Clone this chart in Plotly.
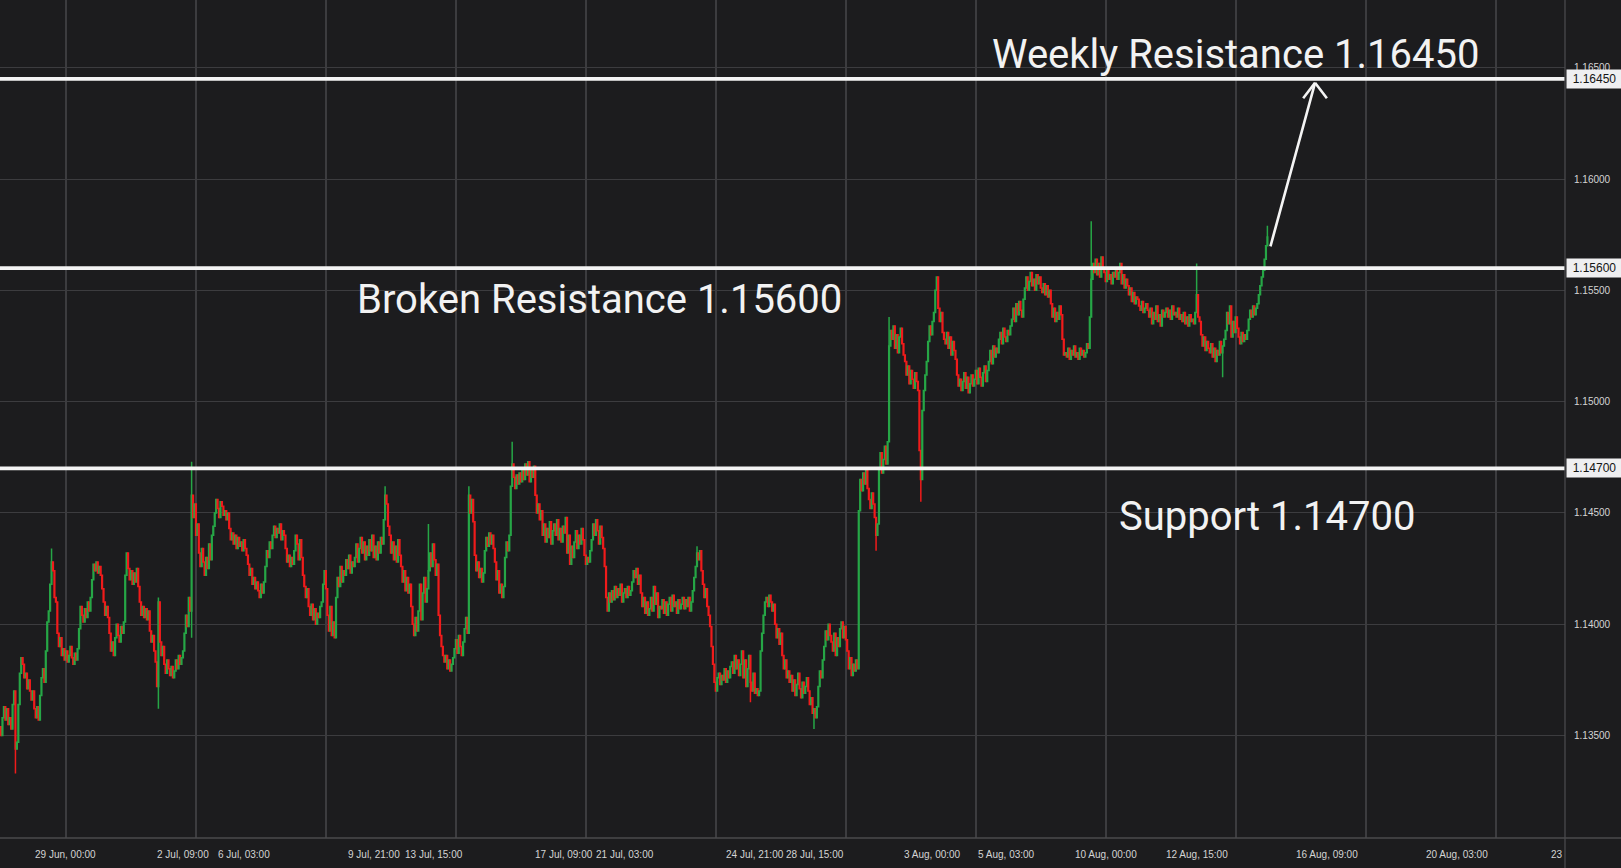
import plotly.graph_objects as go

# hourly closes, in pips above 1.13000 (one value per 1H bar)
close_pips = [
    50, 58, 63, 57, 62, 55, 58, 53, 64, 70, 44, 47,
    64, 78, 85, 82, 76, 78, 71, 75, 70,
    66, 70, 62, 58, 63, 57, 68, 76, 80, 74,
    88, 101, 106, 118, 128, 124, 112, 110, 96, 90, 94,
    86, 89, 84, 88, 83, 86, 90, 85, 82, 87, 84, 89,
    98, 108, 104, 101, 107, 103, 110, 106, 112,
    120, 127, 124, 128, 123, 126, 122, 116, 110, 104, 108, 103,
    96, 88, 92, 86, 94, 100, 95, 92, 99, 96, 101,
    122, 132, 125, 120, 124, 118, 123, 119, 125, 117,
    110, 104, 108, 103, 107, 102, 106, 97, 92, 95, 88, 83, 72, 110,
    92, 86, 90, 82, 78, 84, 80, 77, 81, 76, 79,
    84, 80, 86, 82, 85, 88, 96, 104, 99, 112, 106, 158,
    148, 154, 140, 145, 132, 126, 134, 128, 122, 130, 125, 136, 129, 140, 144,
    150, 156, 152, 148, 155, 153, 149, 151, 147, 150,
    143, 138, 141, 136, 140, 134, 139, 135, 137, 133, 138, 134, 131,
    127, 122, 125, 118, 121, 116, 119, 115, 112, 118, 114, 119,
    126, 133, 130, 137, 134, 140, 144, 139, 143, 141, 145, 138, 142, 140,
    134, 128, 131, 126, 130, 127, 133, 140, 136, 129, 138,
    130, 122, 117, 112, 116, 108, 104, 109, 102, 107, 100, 105, 103, 108, 110,
    118, 124, 116, 104, 97, 108, 95, 101, 94,
    112, 121, 117, 126, 119, 124, 122, 129, 125, 131, 123, 128, 126,
    130, 136, 128, 134, 139, 132, 137, 129, 135,
    131, 138, 133, 140, 130, 135, 129, 137, 132, 139, 136,
    147, 158, 154, 144, 140, 132, 137, 129, 135, 128, 138, 131,
    126, 119, 124, 115, 121, 114, 118, 108, 100, 95, 103, 97,
    106, 118, 102, 114, 121, 110, 116, 124, 132, 126, 136, 129, 122, 127,
    104, 95, 90, 86, 83, 86, 80, 84, 79, 82, 85,
    89, 93, 87, 95, 90, 86, 92, 98, 103, 96, 158,
    150, 156, 146, 131, 124, 128, 121, 125, 119, 123,
    133, 139, 135, 141, 136, 140, 134, 128, 120, 124, 114, 118, 112, 117,
    130, 137, 133, 140, 162, 172, 166, 161, 167, 163, 168, 164,
    170, 165, 172, 167, 173, 164, 169, 166, 171, 158, 150, 154, 147, 151,
    140, 145, 137, 143, 139, 146, 136, 142, 145, 140, 147, 138, 143, 137, 144, 141,
    148, 132, 140, 127, 135, 130, 137, 142, 134, 140, 136, 143, 138,
    131, 127, 130, 128, 133, 138, 145, 140, 147, 142, 136, 144, 139, 134,
    126, 112, 106, 114, 110,
    115, 111, 117, 112, 116, 113, 118, 110, 114, 116, 112, 117, 113, 115,
    119, 124, 121, 125, 118, 122, 114, 108, 112, 105, 110, 104, 107,
    112, 106, 117, 109, 114, 103, 108,
    107, 111, 105, 110, 104, 109, 112, 106, 113, 108, 110, 105, 111, 107,
    109, 112, 107, 111, 108, 112, 106, 110, 115, 121,
    126, 132, 129, 133, 124, 118, 112, 116, 108, 104, 99,
    90, 82, 74, 70, 76, 78, 73, 77, 75, 80, 74, 79, 76, 81,
    83, 78, 86, 80, 84, 77, 82, 88, 76, 84, 72, 80, 86, 74, 70, 78,
    69, 71, 68, 70, 88, 96, 104, 110, 112, 108, 113, 110, 106, 109,
    100, 94, 98, 91, 96, 86, 80, 84, 76, 79,
    74, 77, 70, 75, 68, 73, 78, 71, 67, 74, 69, 72, 76,
    70, 64, 67, 60, 62, 58, 63, 72, 79, 76, 84,
    90, 97, 93, 100, 95, 92, 88, 96, 86, 94, 90, 98,
    101, 94, 99, 93, 88, 80, 85, 77, 82, 79, 84, 80, 151,
    165, 160, 168, 163, 170, 161, 156, 152, 159, 154, 148, 140, 145,
    170, 177, 168, 174, 180, 172, 182, 225, 232,
    228, 234, 224, 230, 222, 229, 233, 226, 221,
    218, 212, 216, 208, 214, 210, 206, 213, 209, 205,
    178, 165, 196, 205, 212, 218, 227, 234, 230, 236, 240, 250, 256,
    242, 236, 240, 231, 228, 226, 231, 224, 229, 221, 227, 223, 219,
    212, 207, 210, 205, 209, 213, 206, 211, 204, 208, 212, 207,
    210, 214, 208, 215, 211, 207, 213, 216, 209, 214,
    218, 223, 217, 225, 220, 224, 222,
    228, 231, 226, 233, 229, 227, 232, 230, 234,
    237, 242, 236, 244, 239, 245, 241, 238, 246,
    251, 256, 250, 254, 258, 252, 255, 250, 257, 253, 256, 251,
    249, 253, 248, 252, 247, 250, 244, 238, 242, 236, 240, 237, 243, 239,
    228, 221, 222, 220, 224, 219, 223, 221, 225, 220, 222, 219, 224, 221, 223, 220, 222, 226, 224,
    238, 255, 262, 258, 264, 257, 262, 256, 265, 260, 258,
    254, 259, 255, 257, 253, 258, 256, 260, 255,
    258, 262, 253, 257, 251, 255, 252, 248, 251, 245, 249, 244, 247, 246,
    243, 241, 245, 240, 242, 244, 241,
    238, 242, 235, 240, 237, 243, 236, 239, 234, 241, 238, 240,
    242, 238, 241, 237, 243, 239, 240, 238, 242, 237, 239,
    236, 240, 235, 238, 234, 239, 236, 237, 235, 240,
    248, 238, 236, 230, 225, 229, 223, 227, 224,
    222, 226, 220, 224, 218, 223, 221, 227, 222, 225, 228,
    232, 240, 235, 243, 229, 236, 231, 238, 233,
    229, 226, 231, 227, 230, 228, 232,
    237, 241, 238, 243, 239, 242, 244, 248, 252, 256, 259, 264, 270, 274,
]
first_open_pips = 54

# long wicks (bar index -> extreme, pips above 1.13000)
wick_high_bar = [35, 109, 132, 266, 296, 324, 354, 482, 615, 755, 828, 877]
wick_high_pips = [134, 112, 173, 162, 145, 162, 182, 135, 238, 281, 262, 279]
wick_low_bar = [10, 109, 132, 519, 563, 606, 637, 846]
wick_low_pips = [33, 62, 94, 65, 53, 133, 155, 211]

# horizontal levels drawn on the chart
levels = [1.16450, 1.15600, 1.14700]
level_labels = ["1.16450", "1.15600", "1.14700"]

# y-axis ticks
y_ticks = [1.135, 1.140, 1.145, 1.150, 1.155, 1.160, 1.165]

# time-axis labels (bar index of each label)
time_label_bar = [45, 126, 168, 258, 300, 390, 432, 522, 564, 645, 696, 765, 828, 918, 1008]
time_labels = ["29 Jun, 00:00", "2 Jul, 09:00", "6 Jul, 03:00", "9 Jul, 21:00",
               "13 Jul, 15:00", "17 Jul, 09:00", "21 Jul, 03:00", "24 Jul, 21:00",
               "28 Jul, 15:00", "3 Aug, 00:00", "5 Aug, 03:00", "10 Aug, 00:00",
               "12 Aug, 15:00", "16 Aug, 09:00", "20 Aug, 03:00"]

BG = "#1c1c1e"
GRID = "#3c3c3f"
UP = "#26a646"
DOWN = "#f01b1b"
TXT = "#d4d4d4"
AXFONT = "Liberation Sans, Arial, sans-serif"

base = 1.13
closes = [base + p / 10000 for p in close_pips]
opens = [base + first_open_pips / 10000] + closes[:-1]
highs = [max(o, c) for o, c in zip(opens, closes)]
lows = [min(o, c) for o, c in zip(opens, closes)]
for i, p in zip(wick_high_bar, wick_high_pips):
    highs[i] = max(highs[i], base + p / 10000)
for i, p in zip(wick_low_bar, wick_low_pips):
    lows[i] = min(lows[i], base + p / 10000)
bars = list(range(len(closes)))

fig = go.Figure()
fig.add_trace(go.Candlestick(
    x=bars, open=opens, high=highs, low=lows, close=closes,
    increasing=dict(line=dict(color=UP, width=1.5), fillcolor=UP),
    decreasing=dict(line=dict(color=DOWN, width=1.5), fillcolor=DOWN),
    whiskerwidth=0, showlegend=False, hoverinfo="skip",
))

for lv, lab in zip(levels, level_labels):
    fig.add_shape(type="line", xref="paper", x0=0, x1=1, yref="y", y0=lv, y1=lv,
                  line=dict(color="#f4f4f4", width=3.8), layer="above")
    fig.add_annotation(xref="paper", x=1, xanchor="left", yref="y", y=lv,
                       text=lab, showarrow=False, bgcolor="#efeff1",
                       font=dict(family=AXFONT, size=12, color="#151515"),
                       width=53, height=16, align="center", borderpad=1, xshift=1)

for b, t in zip(time_label_bar, time_labels):
    fig.add_annotation(xref="x", x=b, yref="paper", y=0, yanchor="top", yshift=-9,
                       text=t, showarrow=False,
                       font=dict(family=AXFONT, size=10, color=TXT))
fig.add_annotation(xref="paper", x=1, xanchor="right", yref="paper", y=0, yanchor="top",
                   yshift=-9, text="23", showarrow=False,
                   font=dict(family=AXFONT, size=10, color=TXT))

big = dict(family="Roboto", size=40, color="#f2f2f2")
fig.add_annotation(x=685, y=1.16560, xanchor="left", yanchor="middle",
                   text="Weekly Resistance 1.16450", showarrow=False, font=big)
fig.add_annotation(x=245, y=1.15457, xanchor="left", yanchor="middle",
                   text="Broken Resistance 1.15600", showarrow=False, font=big)
fig.add_annotation(x=773, y=1.14482, xanchor="left", yanchor="middle",
                   text="Support 1.14700", showarrow=False, font=big)

# arrow towards weekly resistance: shaft plus open chevron
head_x, head_y = 910, 1.16432
for ax, ay in [(-45, 165), (-13, 17), (13, 17)]:
    fig.add_annotation(x=head_x, y=head_y, ax=ax, ay=ay, text="", showarrow=True,
                       arrowhead=0, arrowwidth=2.6, arrowcolor="#f4f4f4")

# axis frame lines running into the margins
fig.add_shape(type="line", xref="paper", yref="paper", x0=1, x1=1, y0=-0.04, y1=1,
              line=dict(color="#4a4a4d", width=1.3))
fig.add_shape(type="line", xref="paper", yref="paper", x0=0, x1=1.04, y0=0, y1=0,
              line=dict(color="#4a4a4d", width=1.3))

fig.update_layout(
    width=1621, height=868,
    margin=dict(l=0, r=56, t=0, b=30),
    paper_bgcolor=BG, plot_bgcolor=BG,
    xaxis=dict(range=[-0.7, 1083.1], rangeslider=dict(visible=False),
               showticklabels=False, showgrid=True, gridcolor=GRID, gridwidth=2,
               tick0=45, dtick=90, zeroline=False, showline=False, fixedrange=True),
    yaxis=dict(range=[1.13040, 1.16804], side="right", tickvals=y_ticks,
               tickformat=".5f", showgrid=True, gridcolor=GRID, gridwidth=1.4,
               zeroline=False, showline=False, ticks="", ticklabelstandoff=8,
               tickfont=dict(family=AXFONT, size=10, color=TXT)),
)

fig.write_html("out.html", config={"displayModeBar": False},
               post_script="document.body.style.margin='0px';"
               "document.body.style.background='#1c1c1e';")
